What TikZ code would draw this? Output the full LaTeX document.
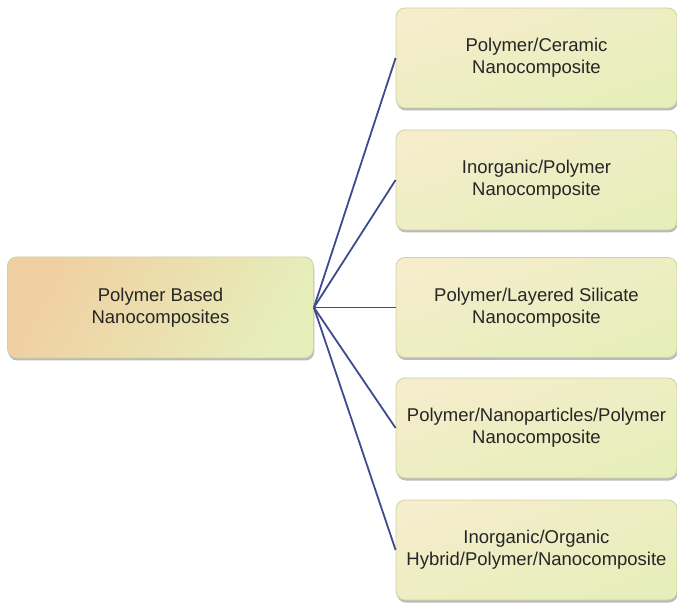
\documentclass[tikz,border=0pt]{standalone}
\usepackage{fontspec}
\setmainfont{Liberation Sans}
\usetikzlibrary{shadows}
\definecolor{peach}{HTML}{F0CFA2}
\definecolor{midyel}{HTML}{EEE4BA}
\definecolor{cream}{HTML}{F5EDCB}
\definecolor{lgreen}{HTML}{E6EEBA}
\definecolor{boxedge}{HTML}{CDD3A4}
\definecolor{linkblue}{HTML}{3D4C8C}
\begin{document}
\begin{tikzpicture}[x=1pt,y=1pt,
  basebox/.style={rounded corners=9pt, draw=boxedge, line width=0.8pt,
    align=center, font=\fontsize{18.5}{22}\selectfont, text=black!85,
    drop shadow={shadow xshift=0.8pt, shadow yshift=-2.5pt, opacity=0.45, fill=black!60}},
  leftbox/.style={basebox, minimum width=306pt, minimum height=101pt,
    shading=axis, top color=peach, middle color=midyel, bottom color=lgreen, shading angle=60},
  rightbox/.style={basebox, minimum width=281pt, minimum height=100pt,
    shading=axis, top color=cream, bottom color=lgreen, shading angle=20},
  link/.style={draw=linkblue, line width=1.8pt}]
\useasboundingbox (0,0) rectangle (677,608);
\node[leftbox] (root) at (160.5,300.5) {Polymer Based\\Nanocomposites};
\node[rightbox] (c1) at (536.5,550) {Polymer/Ceramic\\Nanocomposite};
\node[rightbox] (c2) at (536.5,428) {Inorganic/Polymer\\Nanocomposite};
\node[rightbox] (c3) at (536.5,300.5) {Polymer/Layered Silicate\\Nanocomposite};
\node[rightbox] (c4) at (536.5,180) {Polymer/Nanoparticles/Polymer\\Nanocomposite};
\node[rightbox] (c5) at (536.5,58) {Inorganic/Organic\\Hybrid/Polymer/Nanocomposite};
\foreach \c in {c1,c2,c3,c4,c5}
  \draw[link] (root.east) -- (\c.west);
\end{tikzpicture}
\end{document}
